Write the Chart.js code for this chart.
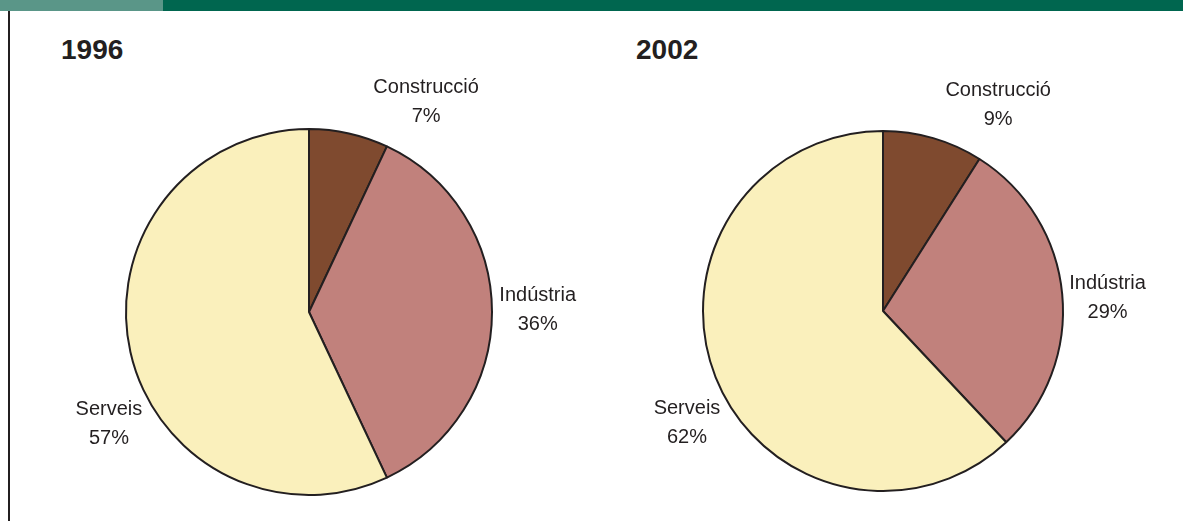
<!DOCTYPE html>
<html>
<head>
<meta charset="utf-8">
<script src="https://cdn.jsdelivr.net/npm/chart.js@4.4.1/dist/chart.umd.min.js"></script>
<style>
  body { margin: 0; background: #fff; width: 1183px; height: 521px; overflow: hidden; position: relative;
         font-family: "Liberation Sans", Arial, sans-serif; color: #231f20; }
  #bar_light { position: absolute; left: 0; top: 0; width: 163px; height: 11px; background: #5a9688; }
  #bar_dark { position: absolute; left: 163px; top: 0; width: 1020px; height: 11px; background: #00664f; }
  #rule { position: absolute; left: 8px; top: 11px; width: 2px; height: 510px; background: #231f20; }
  .year { position: absolute; top: 34px; font-size: 28px; font-weight: bold; }
  canvas { position: absolute; top: 0; }
</style>
</head>
<body>
<div id="bar_light"></div>
<div id="bar_dark"></div>
<div id="rule"></div>
<div class="year" style="left:61px">1996</div>
<div class="year" style="left:636px">2002</div>
<canvas id="pie_1996" width="590" height="521" style="left:0"></canvas>
<canvas id="pie_2002" width="593" height="521" style="left:590px"></canvas>
<script>
var categories = ["Construcció", "Indústria", "Serveis"];
var shares1996 = [7, 36, 57];
var shares2002 = [9, 29, 62];
var sliceColors = ["#7f4a2f", "#c1817c", "#faf0bc"];

// where each label sits: degrees clockwise from top, distance as a share of the radius
var labelAngles1996 = [29, 89, 241];
var labelAngles2002 = [29, 86.4, 240.6];
var labelDist = [1.32, 1.25, 1.25];

var sliceLabels = {
  id: "sliceLabels",
  afterDraw: function (chart) {
    var ctx = chart.ctx;
    var arcs = chart.getDatasetMeta(0).data;
    var vals = chart.data.datasets[0].data;
    var angles = chart.options.plugins.sliceLabels.angles;
    ctx.save();
    ctx.font = "20px 'Liberation Sans', Arial, sans-serif";
    ctx.fillStyle = "#231f20";
    ctx.textAlign = "center";
    ctx.textBaseline = "middle";
    arcs.forEach(function (arc, i) {
      var a = angles[i] * Math.PI / 180;
      var d = arc.outerRadius * labelDist[i];
      var x = arc.x + Math.sin(a) * d;
      var y = arc.y - Math.cos(a) * d;
      ctx.fillText(chart.data.labels[i], x, y - 13);
      ctx.fillText(vals[i] + "%", x, y + 16);
    });
    ctx.restore();
  }
};

function makePie(id, shares, angles, radius, padding) {
  var ctx = document.getElementById(id).getContext("2d");
  return new Chart(ctx, {
    type: "pie",
    data: {
      labels: categories,
      datasets: [
        {
          data: shares,
          backgroundColor: sliceColors,
          borderColor: "#231f20",
          borderWidth: 2,
        },
      ],
    },
    options: {
      responsive: false,
      animation: false,
      radius: radius,
      layout: { padding: padding },
      plugins: {
        legend: { display: false },
        tooltip: { enabled: false },
        sliceLabels: { angles: angles },
      },
    },
    plugins: [sliceLabels],
  });
}

makePie("pie_1996", shares1996, labelAngles1996, 183, { left: 28, right: 0, top: 103, bottom: 0 });
makePie("pie_2002", shares2002, labelAngles2002, 180, { left: 0, right: 7, top: 101, bottom: 0 });
</script>
</body>
</html>
